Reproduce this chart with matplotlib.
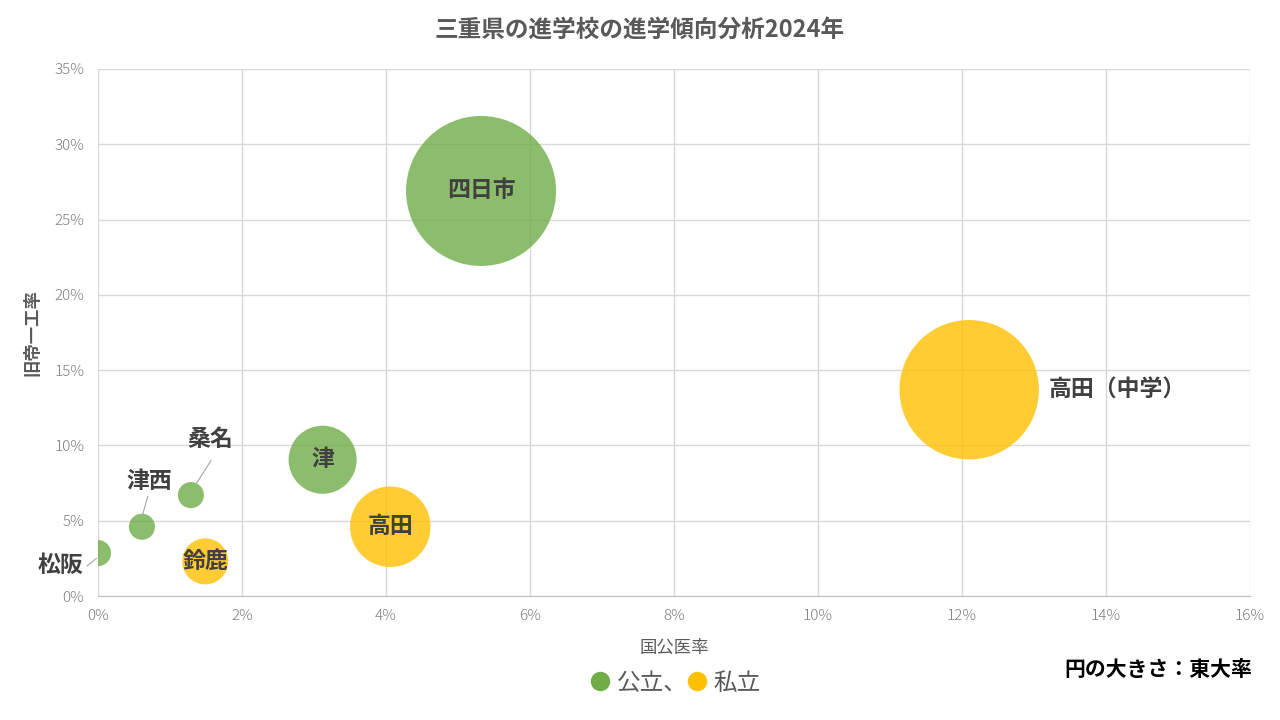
import matplotlib
matplotlib.use("Agg")
import matplotlib.pyplot as plt
from matplotlib.lines import Line2D
from matplotlib.ticker import FuncFormatter, MultipleLocator

plt.rcParams['font.family'] = ['Noto Sans CJK JP', 'DejaVu Sans']

# School data: 国公医率 (x, %), 旧帝一工率 (y, %), 東大率 (bubble size, %)
schools = ["四日市", "高田（中学）", "津", "高田", "鈴鹿", "桑名", "津西", "松阪"]
kokkoui = [5.32, 12.1, 3.12, 4.06, 1.49, 1.29, 0.61, 0.0]
kyuutei = [26.9, 13.7, 9.05, 4.6, 2.3, 6.7, 4.6, 2.85]
todai = [3.3, 2.85, 0.68, 0.95, 0.31, 0.1, 0.1, 0.1]
kind = ["公立", "私立", "公立", "私立", "私立", "公立", "公立", "公立"]

colors = {"公立": "#70AD47", "私立": "#FFC000"}
size_scale = 3535

fig = plt.figure(figsize=(12.8, 7.2), dpi=100)
ax = fig.add_axes([98/1280, 1-596/720, (1250-98)/1280, (596-69)/720])

ax.scatter(kokkoui, kyuutei, s=[v * size_scale for v in todai],
           c=[colors[k] for k in kind], alpha=0.8, linewidths=0, zorder=3)

ax.set_xlim(0, 16)
ax.set_ylim(0, 35)
ax.xaxis.set_major_locator(MultipleLocator(2))
ax.yaxis.set_major_locator(MultipleLocator(5))
pct = FuncFormatter(lambda v, p: f"{v:.0f}%")
ax.xaxis.set_major_formatter(pct)
ax.yaxis.set_major_formatter(pct)
ax.grid(True, color="#D9D9D9", linewidth=1, zorder=0)
ax.set_axisbelow(True)
for side in ["top", "right", "left"]:
    ax.spines[side].set_visible(False)
ax.spines["bottom"].set_color("#BFBFBF")
ax.tick_params(length=0, labelsize=11, colors="#7F7F7F")
ax.tick_params(axis="x", pad=9)
ax.tick_params(axis="y", pad=10)
for lab in ax.get_xticklabels() + ax.get_yticklabels():
    lab.set_fontweight("light")

label_kw = dict(fontsize=16.5, fontweight="bold", color="#404040", zorder=5)
# labels centred on the large bubbles
for name in ["四日市", "津", "高田", "鈴鹿"]:
    i = schools.index(name)
    ax.text(kokkoui[i], kyuutei[i], name, ha="center", va="center", **label_kw)
i = schools.index("高田（中学）")
ax.text(kokkoui[i] + 1.1, kyuutei[i], "高田（中学）", ha="left", va="center", **label_kw)

# labels with leader lines for the small bubbles
callouts = {"桑名": (1.56, 10.4), "津西": (0.71, 7.6), "松阪": (-0.52, 2.0)}
for name, (tx, ty) in callouts.items():
    i = schools.index(name)
    ax.text(tx, ty, name, ha="center", va="center", clip_on=False, **label_kw)
lines = {"桑名": ((1.37, 7.5), (1.57, 9.0)),
         "津西": ((0.62, 5.4), (0.69, 6.6)),
         "松阪": ((-0.15, 2.0), (-0.02, 2.5))}
for name, (p0, p1) in lines.items():
    ax.plot([p0[0], p1[0]], [p0[1], p1[1]], color="#A6A6A6", lw=0.8,
            clip_on=False, zorder=4)

fig.text(640/1280, 1-30/720, "三重県の進学校の進学傾向分析2024年", ha="center",
         va="center", fontsize=17, fontweight="bold", color="#595959")
fig.text(674/1280, 1-648/720, "国公医率", ha="center", va="center",
         fontsize=12.5, color="#595959")
fig.text(32/1280, 1-333/720, "旧帝一工率", ha="center", va="center",
         rotation=90, fontsize=12.5, fontweight="bold", color="#595959")
fig.text(1252/1280, 1-669/720, "円の大きさ：東大率", ha="right", va="center",
         fontsize=15, fontweight="bold", color="#000000")

handles = [Line2D([], [], marker="o", linestyle="none", markersize=14,
                  markerfacecolor=colors[k], markeredgewidth=0, label=t)
           for k, t in [("公立", "公立、"), ("私立", "私立")]]
fig.legend(handles=handles, loc="center", bbox_to_anchor=(676/1280, 1-683/720),
           ncol=2, frameon=False, fontsize=17, handlelength=0.8,
           handletextpad=0.3, columnspacing=0.0, labelcolor="#595959")

fig.savefig("out.png", dpi=100)
